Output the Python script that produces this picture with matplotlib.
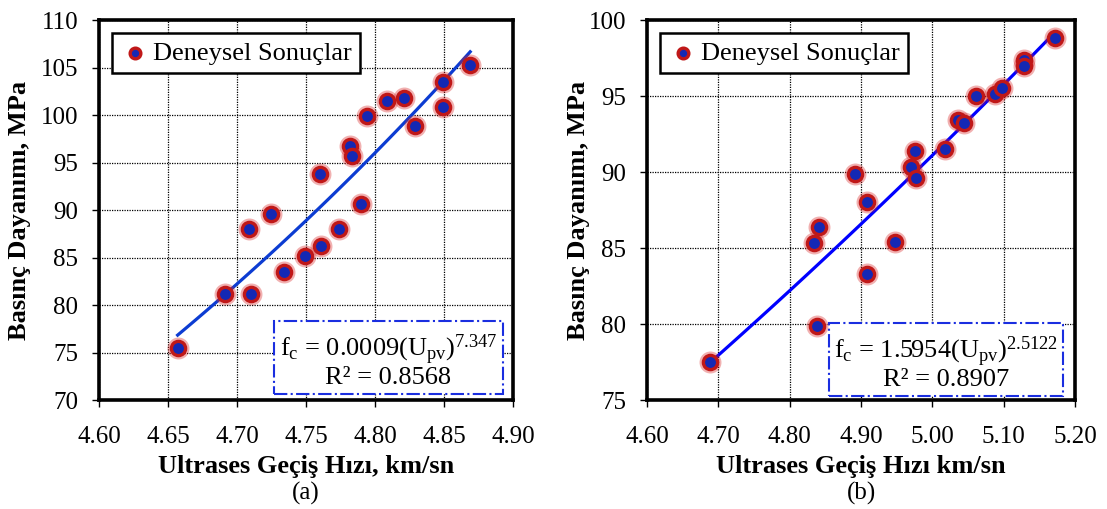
import numpy as np
import matplotlib
matplotlib.use('Agg')
import matplotlib.pyplot as plt
from matplotlib.ticker import FormatStrFormatter

plt.rcParams['font.family'] = ['Liberation Serif', 'DejaVu Serif']
plt.rcParams['mathtext.fontset'] = 'custom'
plt.rcParams['mathtext.rm'] = 'Liberation Serif'
plt.rcParams['mathtext.it'] = 'Liberation Serif:italic'

# (a) data
upv_a = [4.657, 4.691, 4.710, 4.709, 4.725, 4.734, 4.749, 4.760, 4.761, 4.774,
         4.782, 4.783, 4.790, 4.794, 4.809, 4.821, 4.829, 4.849, 4.849, 4.869]
fc_a = [75.5, 81.2, 81.2, 88.0, 89.6, 83.5, 85.2, 93.8, 86.2, 88.0,
        96.7, 95.7, 90.6, 99.9, 101.5, 101.8, 98.8, 103.5, 100.8, 105.3]

# (b) data
upv_b = [4.688, 4.838, 4.834, 4.841, 4.892, 4.909, 4.908, 4.948, 4.970, 4.976,
         4.977, 5.018, 5.036, 5.044, 5.061, 5.088, 5.097, 5.128, 5.129, 5.172]
fc_b = [77.5, 79.9, 85.3, 86.4, 89.9, 88.0, 83.3, 85.4, 90.3, 91.4,
        89.6, 91.5, 93.4, 93.2, 95.0, 95.1, 95.5, 97.4, 97.0, 98.8]

xticks_a = [4.60, 4.65, 4.70, 4.75, 4.80, 4.85, 4.90]
yticks_a = [70, 75, 80, 85, 90, 95, 100, 105, 110]
xticks_b = [4.60, 4.70, 4.80, 4.90, 5.00, 5.10, 5.20]
yticks_b = [75, 80, 85, 90, 95, 100]

eq_a = 'f$_\\mathrm{c}$ = 0.0009(U$_\\mathrm{pv}$)$^\\mathrm{7.347}$\nR² = 0.8568'
eq_b = 'f$_\\mathrm{c}$ = 1.5954(U$_\\mathrm{pv}$)$^\\mathrm{2.5122}$\nR² = 0.8907'

fig = plt.figure(figsize=(11.07, 5.09), dpi=100)
ax1 = fig.add_axes([0.0894, 0.2141, 0.374, 0.7466])
ax2 = fig.add_axes([0.5845, 0.2141, 0.3866, 0.7466])


def draw_panel(ax, x, y, xticks, yticks, eq, eq_pos, line_color, xlabel, caption, ylab_x):
    x = np.array(x)
    y = np.array(y)
    # power-law trendline (fit in log space)
    b, ln_a = np.polyfit(np.log(x), np.log(y), 1)
    xs = np.linspace(x.min(), x.max(), 100)
    ax.plot(xs, np.exp(ln_a) * xs ** b, color=line_color, lw=2.3, zorder=3)

    # glowing markers
    ax.scatter(x, y, s=250, color='#d82020', alpha=0.35, lw=0, zorder=4)
    pts = ax.scatter(x, y, s=105, facecolor='#1428b4', edgecolor='#c01818',
                     lw=2.4, zorder=5, label='Deneysel Sonuçlar')

    ax.set_xlim(xticks[0], xticks[-1])
    ax.set_ylim(yticks[0], yticks[-1])
    ax.set_xticks(xticks)
    ax.set_yticks(yticks)
    ax.xaxis.set_major_formatter(FormatStrFormatter('%.2f'))
    ax.grid(True, color='black', linestyle=(0, (1, 1)), lw=0.9)
    ax.set_axisbelow(True)
    for s in ax.spines.values():
        s.set_linewidth(2.6)
    ax.tick_params(direction='out', length=5, width=1, labelsize=18)
    ax.tick_params(axis='y', pad=10)
    ax.tick_params(axis='x', pad=14)

    ax.set_xlabel(xlabel, fontsize=19, fontweight='bold', va='center')
    ax.xaxis.set_label_coords(0.5, -0.174)
    ax.set_ylabel('Basınç Dayanımı, MPa', fontsize=19, fontweight='bold', va='center')
    ax.yaxis.set_label_coords(ylab_x, 0.5)

    leg = ax.legend(handles=[pts], loc='upper left', fontsize=19, fancybox=False,
                    framealpha=1, edgecolor='black', handletextpad=0.15,
                    borderpad=0.3, handlelength=1.1, borderaxespad=0.5,
                    markerscale=0.75)
    leg.get_frame().set_linewidth(1.8)

    ax.text(eq_pos[0], eq_pos[1], eq, transform=ax.transAxes, fontsize=19,
            ha='right', va='bottom', multialignment='center', zorder=6,
            linespacing=1.0,
            bbox=dict(boxstyle='square,pad=0.2', fc='white', ec='#1a2ee0',
                      lw=1.5, linestyle='-.'))

    ax.text(0.5, -0.245, caption, transform=ax.transAxes, fontsize=18,
            ha='center', va='center')


draw_panel(ax1, upv_a, fc_a, xticks_a, yticks_a, eq_a, (0.962, 0.03), '#0c3cd2',
           'Ultrases Geçiş Hızı, km/sn', '(a)', -0.193)
draw_panel(ax2, upv_b, fc_b, xticks_b, yticks_b, eq_b, (0.96, 0.025), '#0000ff',
           'Ultrases Geçiş Hızı km/sn', '(b)', -0.161)

fig.savefig('out.png', dpi=100)
